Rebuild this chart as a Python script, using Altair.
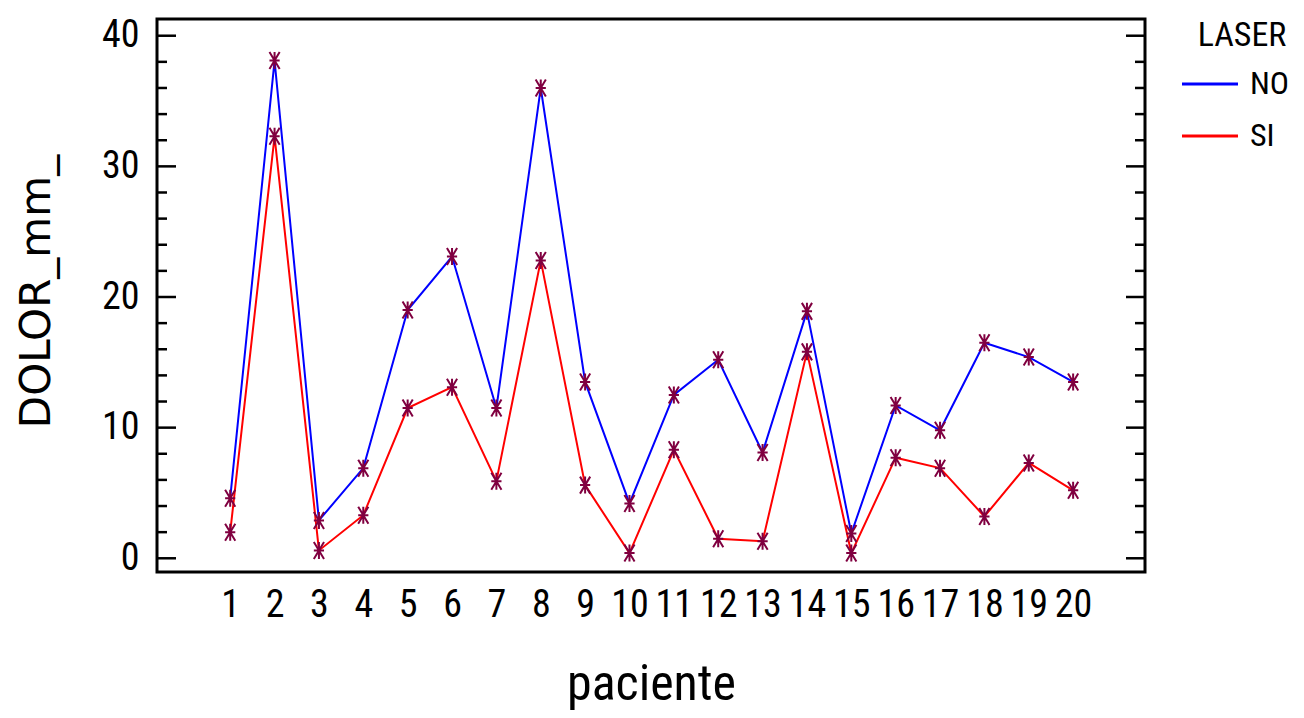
import altair as alt
import pandas as pd

pacientes = list(range(1, 21))
dolor_no = [4.6, 38.1, 2.9, 6.9, 19.0, 23.1, 11.5, 36.0, 13.5, 4.2,
            12.5, 15.2, 8.1, 18.9, 1.9, 11.7, 9.8, 16.5, 15.4, 13.5]
dolor_si = [2.0, 32.3, 0.6, 3.3, 11.5, 13.1, 5.9, 22.8, 5.6, 0.4,
            8.3, 1.5, 1.3, 15.8, 0.4, 7.7, 6.9, 3.2, 7.3, 5.2]
grupos = ["NO", "SI"]
colores = ["#0000ff", "#ff0000"]
y_major = [0, 10, 20, 30, 40]
y_minor = [2, 4, 6, 8, 12, 14, 16, 18, 22, 24, 26, 28, 32, 34, 36, 38]

rows = []
for g, vals in zip(grupos, [dolor_no, dolor_si]):
    for p, v in zip(pacientes, vals):
        rows.append({"paciente": p, "DOLOR_mm_": v, "LASER": g})
df = pd.DataFrame(rows)

W, H = 988, 553
FONT = ("'Liberation Sans Narrow', 'Arial Narrow', 'Noto Sans Condensed', "
        "'Roboto Condensed', 'Open Sans Condensed', 'Liberation Sans', sans-serif")

xs = alt.Scale(domain=[-0.65, 21.62], nice=False, zero=False)
ys = alt.Scale(domain=[-1.05, 41.28], nice=False, zero=False)

x_enc = alt.X("paciente:Q", scale=xs,
              axis=alt.Axis(values=pacientes, ticks=False, domain=False, grid=False,
                            labelFont=FONT, labelFontSize=38, labelPadding=14,
                            labelColor="black", labelFlush=False, labelOverlap=False,
                            title="paciente", titleFont=FONT, titleFontSize=50,
                            titleFontWeight="normal", titleColor="black",
                            titleBaseline="alphabetic", titleY=127))
y_enc = alt.Y("DOLOR_mm_:Q", scale=ys,
              axis=alt.Axis(values=y_major, ticks=False, domain=False, grid=False,
                            labelFont=FONT, labelFontSize=38, labelPadding=18,
                            labelColor="black",
                            title="DOLOR_mm_", titleFont="DejaVu Sans", titleFontSize=42,
                            titleFontWeight="normal", titleColor="black",
                            titleAngle=-90, titleAlign="center", titleBaseline="middle",
                            titleX=-121, titleY=272))

asterisk = "M0,-1L0,1M-0.6,0L0.6,0M-0.6,-1L0.6,1M-0.6,1L0.6,-1"

lines = alt.Chart(df).mark_line(strokeWidth=2).encode(
    x=x_enc, y=y_enc,
    color=alt.Color("LASER:N", scale=alt.Scale(domain=grupos, range=colores),
                    legend=alt.Legend(orient="none", legendX=1037, legendY=0,
                                      title="LASER", titleFont=FONT, titleFontSize=34,
                                      titleFontWeight="normal", titleColor="black",
                                      titleAnchor="middle", titlePadding=15,
                                      labelFont=FONT, labelFontSize=32, labelColor="black",
                                      labelOffset=24, rowPadding=20,
                                      symbolType="M-4,0L4,0", symbolSize=196,
                                      symbolStrokeWidth=3)),
    detail="LASER:N",
)

points = alt.Chart(df).mark_point(shape=asterisk, size=289, filled=False,
                                  stroke="#800040", strokeWidth=2, opacity=1).encode(
    x=alt.X("paciente:Q", scale=xs), y=alt.Y("DOLOR_mm_:Q", scale=ys))

tick_major = pd.DataFrame({"v": y_major})
tick_minor = pd.DataFrame({"v": y_minor})

def ticks(data, x0, x1):
    return alt.Chart(data).mark_rule(color="black", strokeWidth=2.5).encode(
        y=alt.Y("v:Q", scale=ys), x=alt.value(x0), x2=alt.value(x1))

chart = alt.layer(
    lines, points,
    ticks(tick_major, 0, 19), ticks(tick_minor, 0, 10),
    ticks(tick_major, W - 19, W), ticks(tick_minor, W - 10, W),
).properties(
    width=W, height=H,
    background="white",
    autosize=alt.AutoSizeParams(type="none"),
    padding={"left": 149, "top": 11, "right": 151, "bottom": 138},
).configure_view(stroke="black", strokeWidth=3)

chart.save("out.html", embed_options={"renderer": "svg", "actions": False})
